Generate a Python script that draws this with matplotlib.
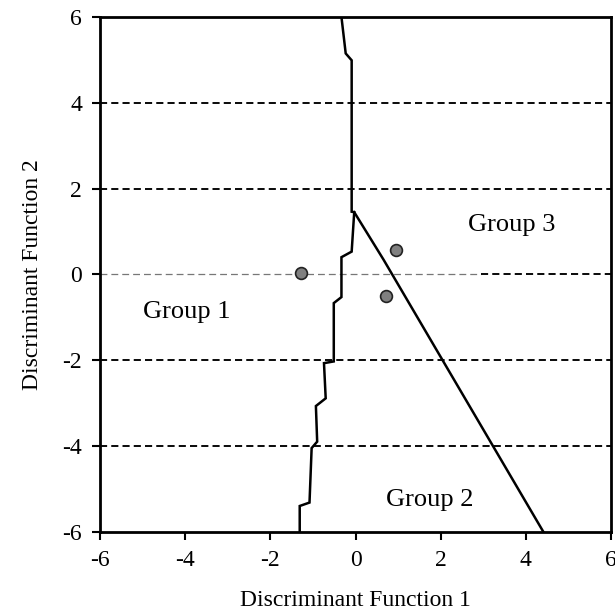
import matplotlib
matplotlib.use("Agg")
import matplotlib.pyplot as plt

# Territorial boundary between Group 1 and the other groups (stepped line)
boundary_12_x = [-0.33, -0.23, -0.09, -0.09, -0.03, -0.09, -0.33, -0.33, -0.51, -0.51,
                 -0.74, -0.70, -0.93, -0.90, -1.03, -1.08, -1.31, -1.31]
boundary_12_y = [6.00, 5.15, 4.99, 1.46, 1.45, 0.53, 0.40, -0.53, -0.67, -2.03,
                 -2.07, -2.89, -3.07, -3.90, -4.05, -5.32, -5.40, -6.00]

# Boundary between Group 2 and Group 3
boundary_23_x = [-0.03, 0.66, 4.41]
boundary_23_y = [1.45, 0.34, -6.00]

# Group centroids
centroid_x = [-1.27, 0.95, 0.72]
centroid_y = [0.04, 0.57, -0.50]

group_labels = ["Group 1", "Group 2", "Group 3"]
group_label_x = [-3.97, 1.74, 3.66]
group_label_y = [-0.87, -5.26, 1.15]

grid_levels = [4, 2, -2, -4]
ticks = [-6, -4, -2, 0, 2, 4, 6]

plt.rcParams["font.family"] = ["Liberation Serif", "DejaVu Serif"]

fig = plt.figure(figsize=(6.15, 6.15), dpi=100)
ax = fig.add_axes([0.1626, 0.1354, 0.8309, 0.837])

ax.set_xlim(-6, 6)
ax.set_ylim(-6, 6)

# Horizontal dashed reference lines
for lvl in grid_levels:
    ax.plot([-6, 6], [lvl, lvl], color="black", lw=1.35,
            dashes=(3.8, 2.2), zorder=1)
ax.plot([-6, 2.95], [0, 0], color="#777777", lw=0.9, dashes=(5.5, 3.2), zorder=1)
ax.plot([2.95, 6], [0, 0], color="black", lw=1.35, dashes=(3.8, 2.2), zorder=1)

ax.plot(boundary_12_x, boundary_12_y, color="black", lw=1.8, zorder=2,
        solid_joinstyle="miter")
ax.plot(boundary_23_x, boundary_23_y, color="black", lw=1.8, zorder=2)

ax.plot(centroid_x, centroid_y, linestyle="none", marker="o", markersize=8.5,
        markerfacecolor="#808080", markeredgecolor="#222222",
        markeredgewidth=1.2, zorder=3)

for lab, gx, gy in zip(group_labels, group_label_x, group_label_y):
    ax.text(gx, gy, lab, fontsize=19, ha="center", va="center")

ax.set_xticks(ticks)
ax.set_yticks(ticks)
ax.set_xticklabels([str(t) for t in ticks])
ax.set_yticklabels([str(t) for t in ticks])
ax.tick_params(direction="out", length=6, width=1.5, labelsize=17, pad=7)

for side in ["left", "right", "top", "bottom"]:
    ax.spines[side].set_linewidth(2.0)

ax.set_xlabel("Discriminant Function 1", fontsize=17, labelpad=14)
ax.set_ylabel("Discriminant Function 2", fontsize=17, labelpad=14)

fig.savefig("out.png", dpi=100)
